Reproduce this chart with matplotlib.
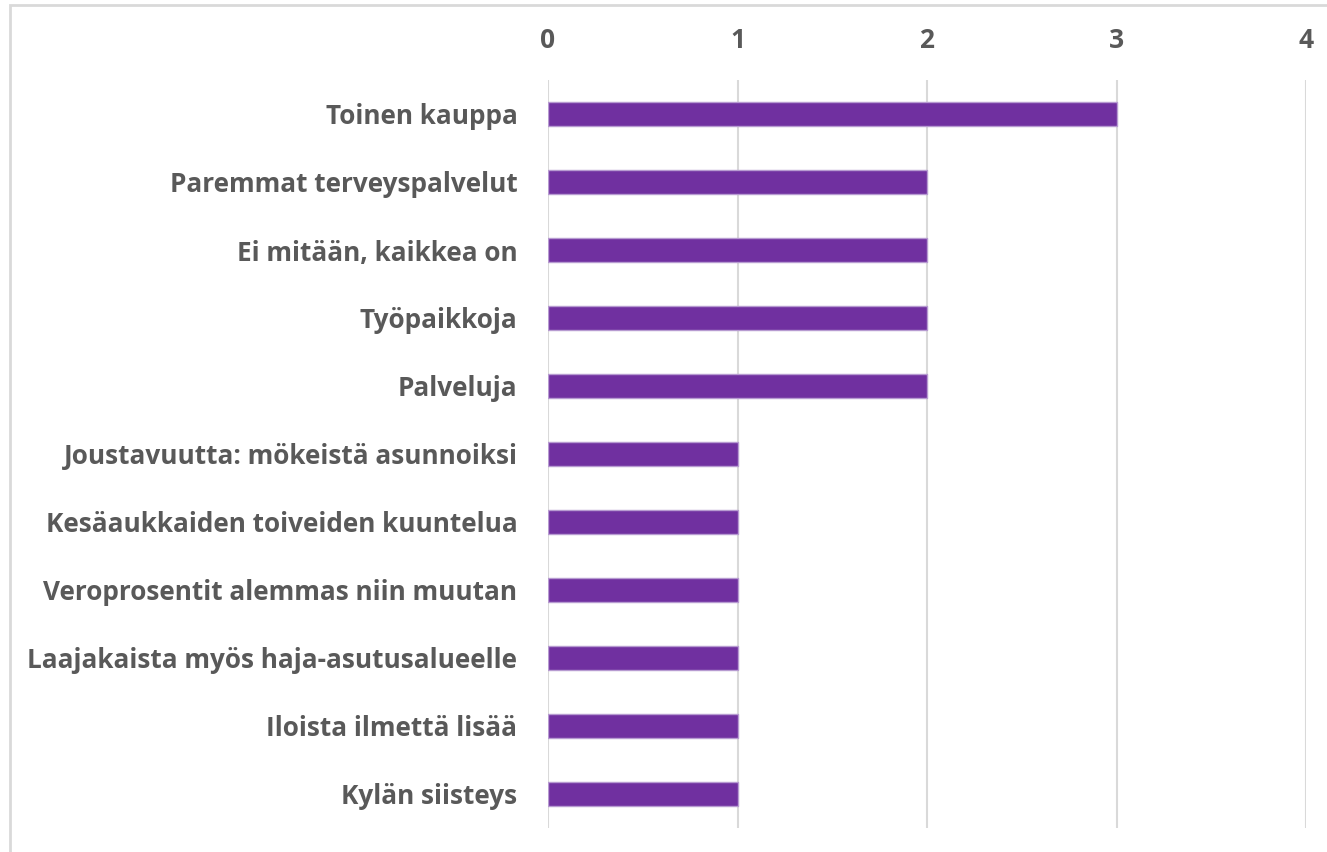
import matplotlib.pyplot as plt
from matplotlib.patches import Rectangle

categories = ['Toinen kauppa', 'Paremmat terveyspalvelut', 'Ei mitään, kaikkea on',
              'Työpaikkoja', 'Palveluja', 'Joustavuutta: mökeistä asunnoiksi',
              'Kesäaukkaiden toiveiden kuuntelua', 'Veroprosentit alemmas niin muutan',
              'Laajakaista myös haja-asutusalueelle', 'Iloista ilmettä lisää', 'Kylän siisteys']
values = [3, 2, 2, 2, 2, 1, 1, 1, 1, 1, 1]
ticks = [0, 1, 2, 3, 4]

W, H = 1327, 852
fig = plt.figure(figsize=(W / 100, H / 100), dpi=100)
ax = fig.add_axes([548 / W, 1 - 828 / H, (1306 - 548) / W, (828 - 80) / H])

# outer chart frame (only top and left visible)
fig.patches.append(Rectangle((10 / W, -0.5), 2, 1.5 - 5 / H, transform=fig.transFigure,
                             fill=False, edgecolor='#d9d9d9', linewidth=2))

pos = list(range(len(categories)))
ax.barh(pos, values, height=0.35, color='#7030a0', edgecolor='#b79bd1', linewidth=1, zorder=3)
ax.set_ylim(len(categories) - 0.5, -0.5)
ax.set_xlim(0, 4)
ax.set_xticks(ticks)
ax.set_yticks(pos)
ax.set_yticklabels(categories)
ax.xaxis.tick_top()
ax.grid(axis='x', color='#d9d9d9', linewidth=1.5, zorder=0)
for s in ax.spines.values():
    s.set_visible(False)
ax.tick_params(length=0)
ax.tick_params(axis='x', pad=19)
ax.tick_params(axis='y', pad=22)
for lab in ax.get_yticklabels():
    lab.set_fontfamily('Open Sans')
    lab.set_fontweight('bold')
    lab.set_fontsize(18.8)
    lab.set_color('#595959')
for lab in ax.get_xticklabels():
    lab.set_fontfamily('Open Sans')
    lab.set_fontweight('bold')
    lab.set_fontsize(19)
    lab.set_color('#595959')

fig.savefig('out.png', dpi=100)
